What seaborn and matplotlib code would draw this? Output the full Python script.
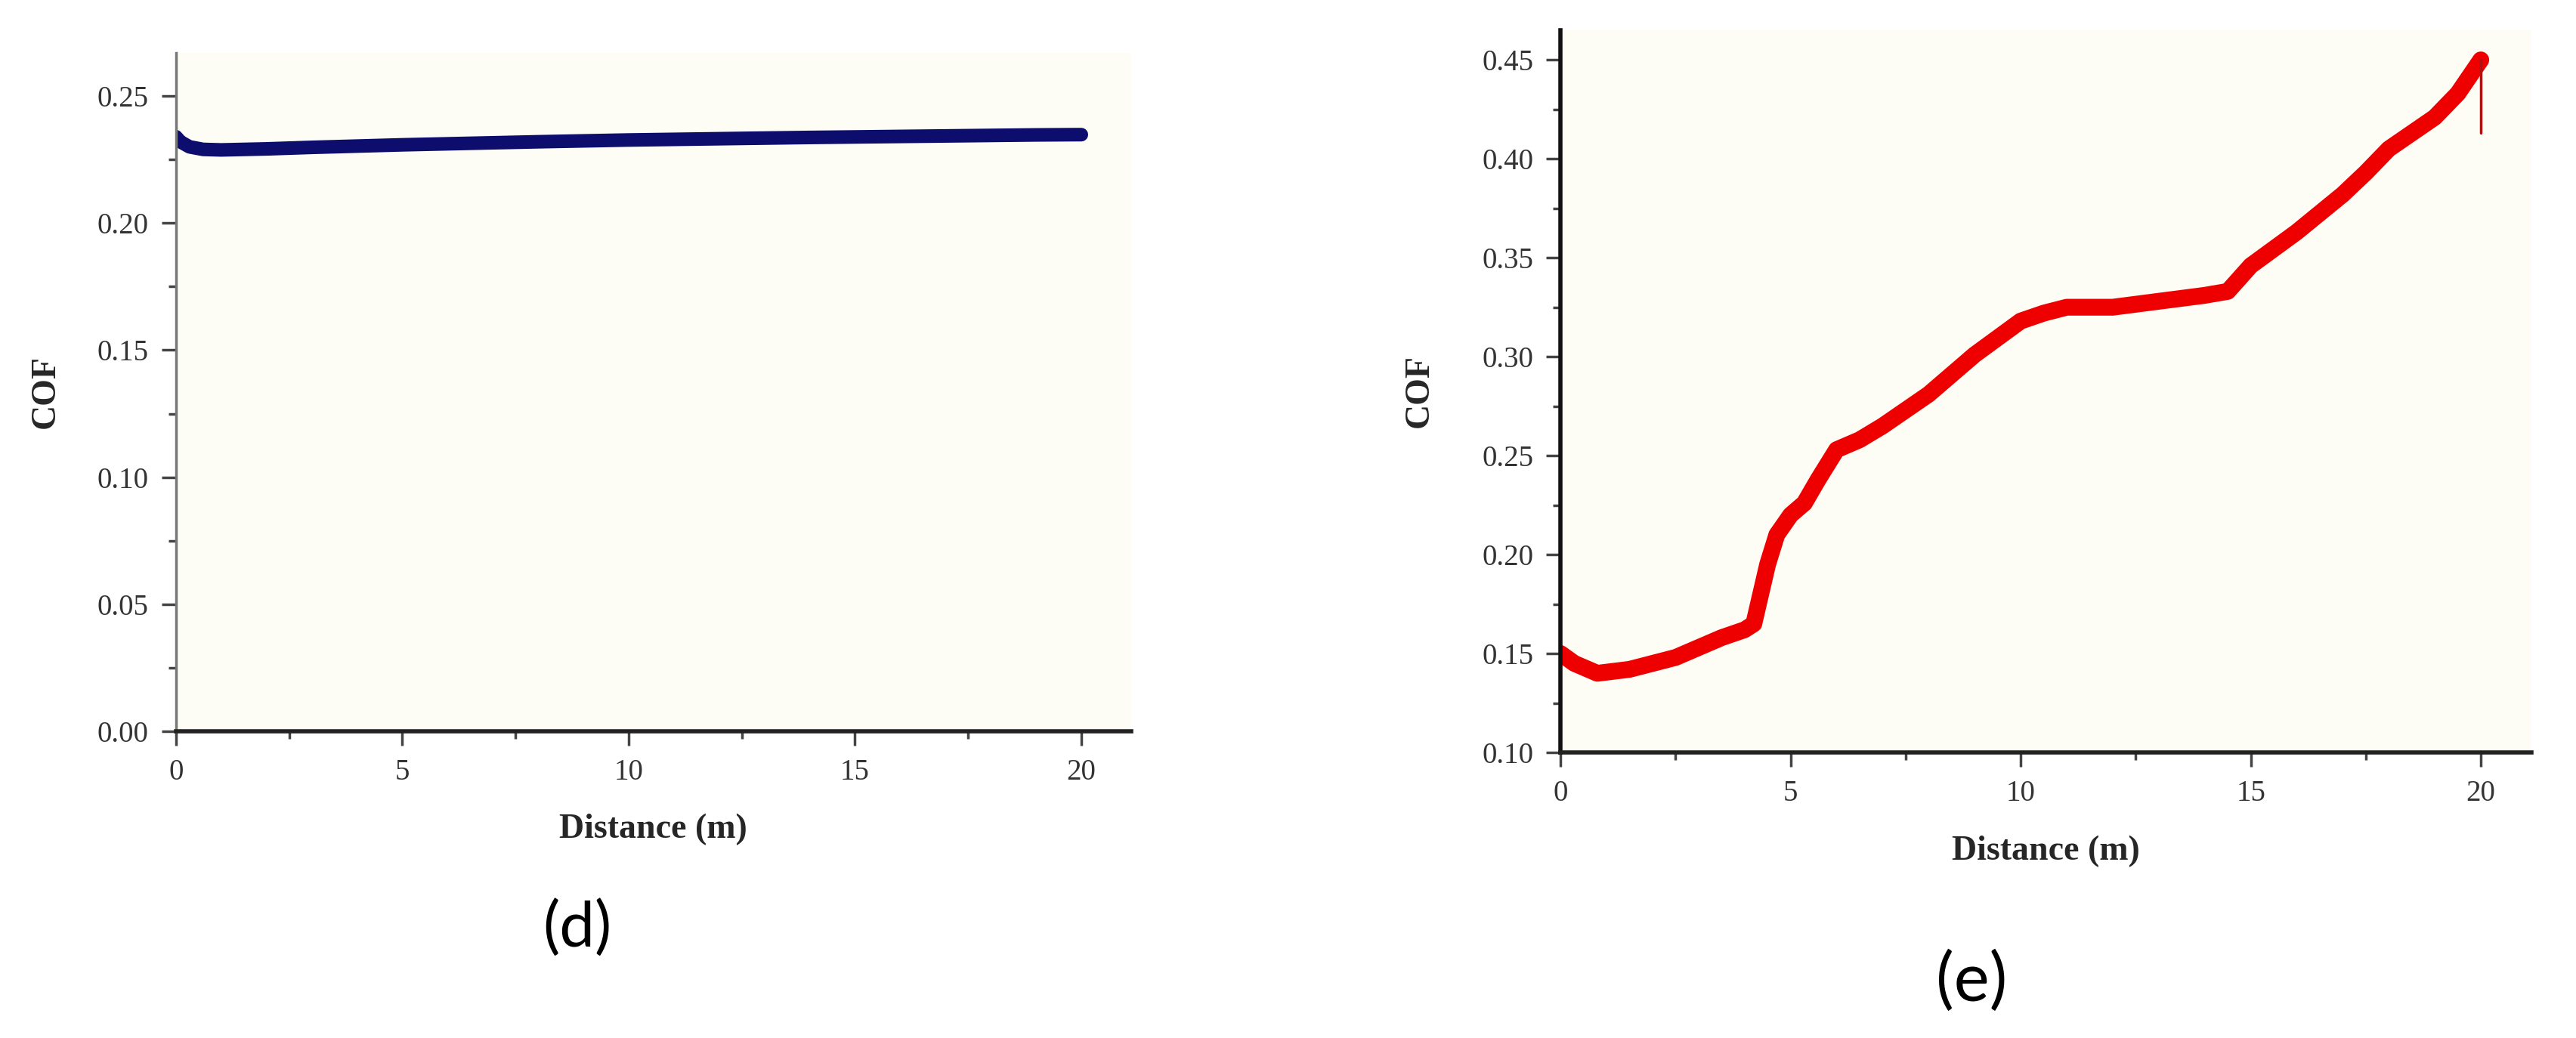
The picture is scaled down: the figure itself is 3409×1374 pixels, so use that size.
import numpy as np
import pandas as pd
import matplotlib
matplotlib.use("Agg")
import matplotlib.pyplot as plt
from matplotlib.ticker import MultipleLocator, FormatStrFormatter
import seaborn as sns

# Valores (d): COF quase constante
dist_d = [0.0, 0.1, 0.3, 0.6, 1.0, 2.0, 3.0, 4.0, 5.0, 6.0, 8.0, 10.0,
          12.0, 14.0, 16.0, 18.0, 19.0, 19.9, 20.0]
cof_d = [0.2340, 0.2320, 0.2300, 0.2290, 0.2288, 0.2292, 0.2298, 0.2303,
         0.2308, 0.2312, 0.2320, 0.2327, 0.2332, 0.2337, 0.2341, 0.2345,
         0.2347, 0.2348, 0.2348]

# Valores (e): COF crescente
dist_e = [0.0, 0.3, 0.8, 1.5, 2.0, 2.5, 3.0, 3.5, 4.0, 4.2, 4.3, 4.5, 4.7,
          5.0, 5.3, 5.6, 6.0, 6.5, 7.0, 8.0, 9.0, 10.0, 10.5, 11.0, 12.0,
          13.0, 14.0, 14.5, 15.0, 16.0, 17.0, 17.5, 18.0, 19.0, 19.5, 20.0]
cof_e = [0.150, 0.145, 0.140, 0.142, 0.145, 0.148, 0.153, 0.158, 0.162,
         0.165, 0.175, 0.195, 0.210, 0.220, 0.226, 0.238, 0.253, 0.258,
         0.265, 0.281, 0.301, 0.318, 0.322, 0.325, 0.325, 0.328, 0.331,
         0.333, 0.346, 0.363, 0.382, 0.393, 0.405, 0.421, 0.433, 0.450]
# queda final em x = 20
drop_dist = [20.0, 20.0]
drop_cof = [0.450, 0.413]

sns.set_style("ticks")
plt.rcParams["font.family"] = ["Liberation Serif", "DejaVu Serif"]

fig = plt.figure(figsize=(34.09, 13.74), dpi=100)
ax1 = fig.add_axes([0.0683, 0.2955, 0.3708, 0.6536])
ax2 = fig.add_axes([0.6058, 0.2751, 0.3769, 0.6958])

fundo = "#fdfdf5"

sns.lineplot(x=dist_d, y=cof_d, ax=ax1, color="#0d0d6e", linewidth=13,
             estimator=None, sort=False)
sns.lineplot(x=dist_e, y=cof_e, ax=ax2, color="#ee0000", linewidth=16,
             estimator=None, sort=False)
sns.lineplot(x=drop_dist, y=drop_cof, ax=ax2, color="#b01010", linewidth=2.5,
             estimator=None, sort=False)

ax1.set_ylim(0, 0.267)
ax2.set_ylim(0.10, 0.465)

for ax, cor_esq in [(ax1, "#777777"), (ax2, "#111111")]:
    ax.set_facecolor(fundo)
    ax.set_xlim(0, 21.1)
    ax.xaxis.set_major_locator(MultipleLocator(5))
    ax.xaxis.set_minor_locator(MultipleLocator(2.5))
    ax.yaxis.set_major_locator(MultipleLocator(0.05))
    ax.yaxis.set_minor_locator(MultipleLocator(0.025))
    ax.yaxis.set_major_formatter(FormatStrFormatter("%.2f"))
    ax.spines["top"].set_visible(False)
    ax.spines["right"].set_visible(False)
    ax.spines["bottom"].set_linewidth(4)
    ax.spines["bottom"].set_color("#222222")
    ax.spines["left"].set_linewidth(2.5 if ax is ax1 else 4)
    ax.spines["left"].set_color(cor_esq)
    ax.tick_params(which="major", direction="out", length=14, width=2.5,
                   color="#444444", labelsize=28, labelcolor="#333333", pad=12)
    ax.tick_params(which="minor", direction="out", length=7, width=2.5,
                   color="#444444")
    ax.set_xlabel("Distance (m)", fontsize=33, fontweight="bold", labelpad=26)

ax1.set_ylabel("COF", fontsize=33, fontweight="bold", labelpad=34)
ax2.set_ylabel("COF", fontsize=33, fontweight="bold", labelpad=44)

fig.text(0.224, 0.105, "(d)", fontsize=60, family=["Lato", "DejaVu Sans"],
         color="black", ha="center", va="center")
fig.text(0.7655, 0.054, "(e)", fontsize=64, family=["Lato", "DejaVu Sans"],
         color="black", ha="center", va="center")

plt.savefig("out.png", dpi=100, facecolor="white")
